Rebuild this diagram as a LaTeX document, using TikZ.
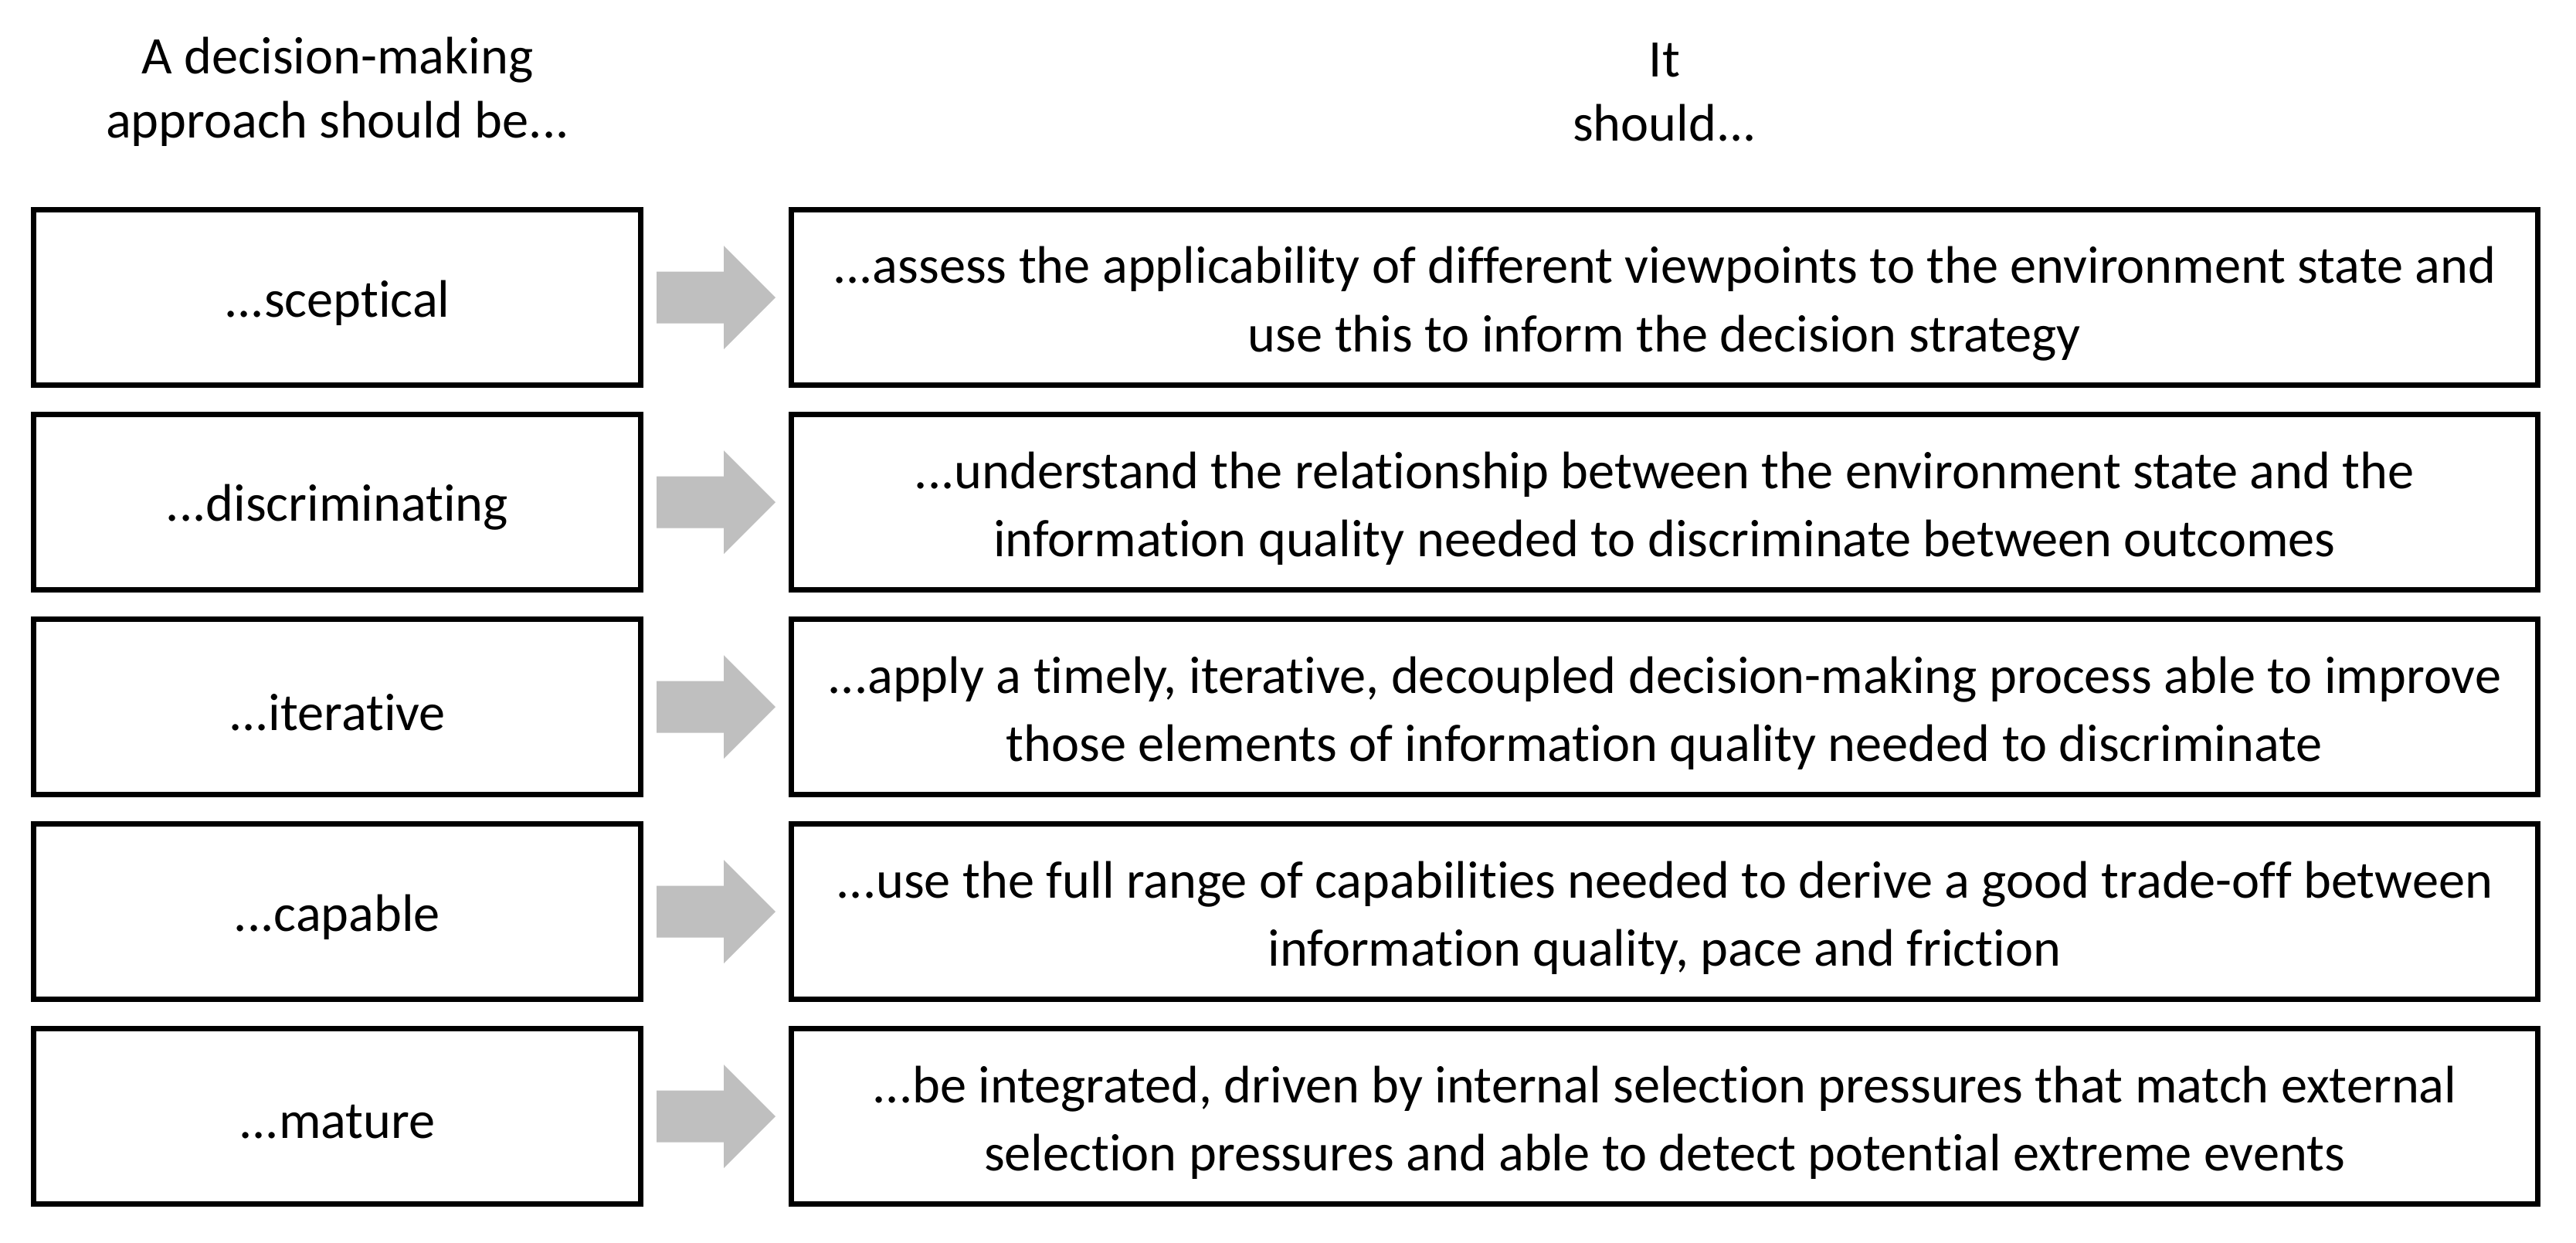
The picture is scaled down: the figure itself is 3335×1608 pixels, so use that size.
\documentclass[tikz,border=0pt]{standalone}
\usepackage{fontspec}
\setmainfont{Carlito}[Ligatures=NoCommon]
\usetikzlibrary{calc}
\definecolor{arrowgray}{RGB}{191,191,191}
\begin{document}
\begin{tikzpicture}[x=0.24pt,y=-0.24pt,
  txt/.style={font=\fontsize{16.4pt}{21.2pt}\selectfont, align=center, inner sep=0pt},
  head/.style={font=\fontsize{16.4pt}{20pt}\selectfont, align=center, inner sep=0pt},
  lbox/.style={draw, line width=1.68pt, minimum width={786*0.24pt}, minimum height={227*0.24pt}, inner sep=0pt},
  rbox/.style={draw, line width=1.68pt, minimum width={2261*0.24pt}, minimum height={227*0.24pt}, inner sep=0pt},
  blockarrow/.style={fill=arrowgray}]
\useasboundingbox (0,0) rectangle (3335,1608);
\node[head] (h1) at (437,119) {A decision-making\\approach should be...};
\node[head] (h2) at (2155,119) {It\\should...};
\foreach \i/\l/\r in {
  0/{...sceptical}/{...assess the applicability of different viewpoints to the environment state and\\use this to inform the decision strategy},
  1/{...discriminating}/{...understand the relationship between the environment state and the\\information quality needed to discriminate between outcomes},
  2/{...iterative}/{...apply a timely, iterative, decoupled decision-making process able to improve\\those elements of information quality needed to discriminate},
  3/{...capable}/{...use the full range of capabilities needed to derive a good trade-off between\\information quality, pace and friction},
  4/{...mature}/{...be integrated, driven by internal selection pressures that match external\\selection pressures and able to detect potential extreme events}}
{
  \pgfmathsetmacro{\cy}{385+265*\i}
  \node[lbox] (l\i) at (436.5,\cy) {};
  \node[rbox] (r\i) at (2155,\cy) {};
  \node[txt] (lt\i) at ($(l\i.center)+(0,7)$) {\l};
  \node[txt] (rt\i) at ($(r\i.center)+(0,8)$) {\r};
  \fill[blockarrow] ($(l\i.east)+(17,-33.5)$) -- ($(l\i.east)+(104,-33.5)$) -- ($(l\i.east)+(104,-67)$)
     -- ($(r\i.west)+(-17,0)$) -- ($(l\i.east)+(104,67)$) -- ($(l\i.east)+(104,33.5)$)
     -- ($(l\i.east)+(17,33.5)$) -- cycle;
}
\end{tikzpicture}
\end{document}
